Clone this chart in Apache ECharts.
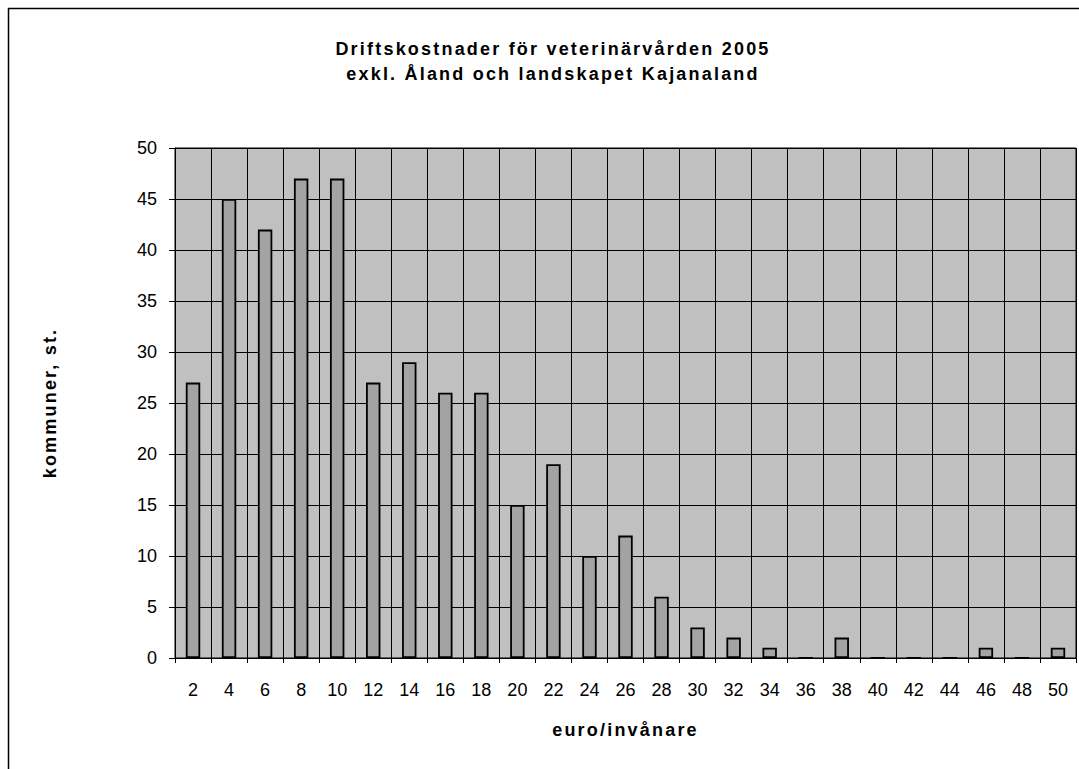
<!DOCTYPE html>
<html>
<head>
<meta charset="utf-8">
<script src="https://cdn.jsdelivr.net/npm/echarts@6/dist/echarts.min.js"></script>
<style>
html,body{margin:0;padding:0;background:#fff;}
#main{width:1079px;height:769px;}
</style>
</head>
<body>
<div id="main"></div>
<script>
const categories = ['2','4','6','8','10','12','14','16','18','20','22','24','26','28','30','32','34','36','38','40','42','44','46','48','50'];
const counts = [27,45,42,47,47,27,29,26,26,15,19,10,12,6,3,2,1,0,2,0,0,0,1,0,1];
const yTicks = {min: 0, max: 50, interval: 5};
const titleLines = ['Driftskostnader för veterinärvården 2005', 'exkl. Åland och landskapet Kajanaland'];
const xName = 'euro/invånare';
const yName = 'kommuner, st.';

const font = "'Liberation Sans', Arial, sans-serif";
const boldStyle = {fontFamily: font, fontSize: 18, fontWeight: 'bold', color: '#000'};
const chart = echarts.init(document.getElementById('main'), null, {renderer: 'svg'});
chart.setOption({
  animation: false,
  backgroundColor: '#fff',
  textStyle: {fontFamily: font},
  title: {
    text: titleLines.join('\n'),
    left: 548, top: 31, textAlign: 'center',
    textStyle: Object.assign({lineHeight: 25}, boldStyle)
  },
  graphic: [{
    type: 'rect', silent: true,
    shape: {x: 8.5, y: 8.5, width: 1200, height: 1000},
    style: {fill: 'none', stroke: '#000', lineWidth: 1.5}
  }],
  grid: {
    left: 175, right: 3, top: 148, bottom: 111,
    show: true, backgroundColor: '#c0c0c0', borderColor: '#000', borderWidth: 1
  },
  xAxis: {
    type: 'category', data: categories, boundaryGap: true,
    name: xName, nameLocation: 'middle', nameGap: 63,
    nameTextStyle: boldStyle,
    axisLine: {show: true, lineStyle: {color: '#000', width: 1}},
    axisTick: {show: true, alignWithLabel: false, interval: 0, length: 5, lineStyle: {color: '#000'}},
    axisLabel: {interval: 0, margin: 23, fontSize: 18, color: '#000', fontFamily: font},
    splitLine: {show: true, interval: 0, lineStyle: {color: '#000', width: 1}}
  },
  yAxis: {
    type: 'value', min: yTicks.min, max: yTicks.max, interval: yTicks.interval,
    name: yName, nameLocation: 'middle', nameGap: 116,
    nameTextStyle: boldStyle,
    axisLine: {show: true, lineStyle: {color: '#000', width: 1}},
    axisTick: {show: true, length: 6, inside: false, lineStyle: {color: '#000'}},
    axisLabel: {margin: 18, fontSize: 18, color: '#000', fontFamily: font},
    splitLine: {show: true, lineStyle: {color: '#000', width: 1}}
  },
  series: [{
    type: 'bar', data: counts, barWidth: '40%',
    itemStyle: {color: '#a3a3a3', borderColor: '#000', borderWidth: 1.8}
  }]
});

// The reference renders its bold captions with wide letter spacing.
function spaceBold() {
  const wanted = new Set(titleLines.concat([xName, yName]));
  document.querySelectorAll('#main svg text').forEach(function (t) {
    const s = (t.textContent || '').trim();
    if (wanted.has(s)) {
      t.style.letterSpacing = '2.2px';
      t.style.fontWeight = 'bold';
    }
  });
}
spaceBold();
chart.on('finished', spaceBold);
</script>
</body>
</html>
